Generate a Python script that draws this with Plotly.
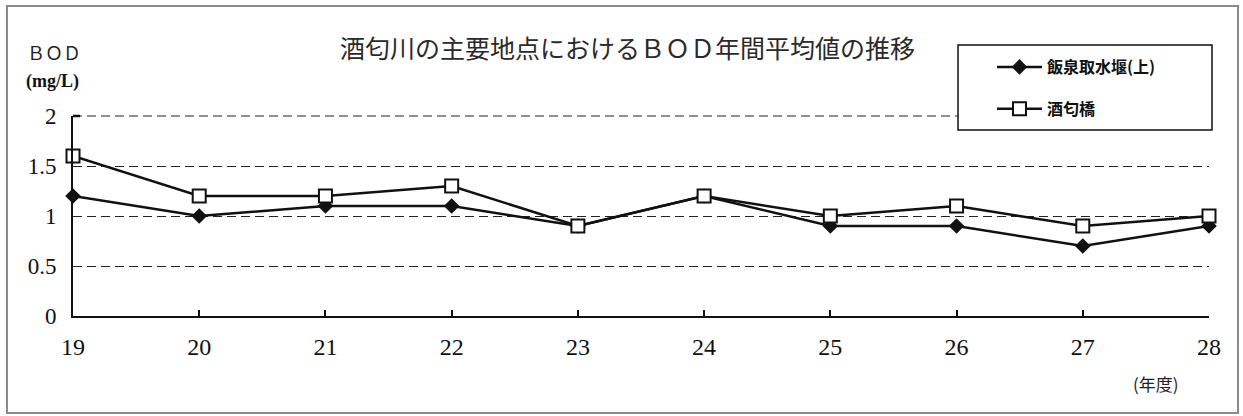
import plotly.graph_objects as go

# 年度 (平成)
years = [19, 20, 21, 22, 23, 24, 25, 26, 27, 28]
# BOD 年間平均値 (mg/L)
iizumi = [1.2, 1.0, 1.1, 1.1, 0.9, 1.2, 0.9, 0.9, 0.7, 0.9]
sakawabashi = [1.6, 1.2, 1.2, 1.3, 0.9, 1.2, 1.0, 1.1, 0.9, 1.0]
y_ticks = [0, 0.5, 1, 1.5, 2]
y_tick_text = ["0", "0.5", "1", "1.5", "2"]
y_max = 2

W, H = 1243, 416
L, R, T, B = 73, 34, 116, 100
PW, PH = W - L - R, H - T - B


def px(x):
    return (x - L) / PW


def py(y):
    return (H - B - y) / PH


serif = "Liberation Serif, DejaVu Serif, serif"
cjk = "Noto Sans CJK JP, Noto Sans CJK SC, sans-serif"
grid_dash = "9px,5px"

fig = go.Figure()
fig.add_trace(go.Scatter(
    x=years, y=iizumi, name="飯泉取水堰(上)", mode="lines+markers",
    line=dict(color="#111", width=2.5),
    marker=dict(symbol="diamond", size=12, color="#111"),
    cliponaxis=False, legendgroup="a",
))
fig.add_trace(go.Scatter(
    x=years, y=sakawabashi, name="酒匂橋", mode="lines+markers",
    line=dict(color="#111", width=2.5),
    marker=dict(symbol="square", size=13, color="white",
                line=dict(color="#111", width=2)),
    cliponaxis=False, legendgroup="b",
))

shapes = [
    # outer frame
    dict(type="rect", xref="paper", yref="paper",
         x0=px(7), x1=px(1238), y0=py(413), y1=py(6),
         line=dict(color="#8a8a8a", width=2), layer="below"),
    # top gridline at the upper edge of the value range (paper ref so it is not clipped)
    dict(type="line", xref="paper", yref="paper",
         x0=0, x1=1, y0=1, y1=1,
         line=dict(color="#222", width=1.2, dash=grid_dash), layer="below"),
    # corner tick at the top of the value axis
    dict(type="line", xref="paper", yref="paper",
         x0=0, x1=px(80), y0=1, y1=1,
         line=dict(color="#111", width=2.5), layer="below"),
    # legend box
    dict(type="rect", xref="paper", yref="paper",
         x0=px(958), x1=px(1212), y0=py(130), y1=py(45),
         line=dict(color="#111", width=1.5), fillcolor="white", layer="above"),
]

annotations = [
    dict(text="酒匂川の主要地点におけるＢＯＤ年間平均値の推移",
         xref="paper", yref="paper", x=px(627), y=py(47),
         xanchor="center", yanchor="middle", showarrow=False,
         font=dict(family=cjk, size=25, color="#2a2a2a")),
    dict(text="ＢＯＤ", xref="paper", yref="paper", x=px(25), y=py(52),
         xanchor="left", yanchor="middle", showarrow=False,
         font=dict(family=cjk, size=18, color="#222")),
    dict(text="(mg/L)", xref="paper", yref="paper", x=px(24), y=py(81),
         xanchor="left", yanchor="middle", showarrow=False,
         font=dict(family=serif, size=18, color="#111", weight="bold")),
    dict(text="(年度)", xref="paper", yref="paper", x=px(1131), y=py(383),
         xanchor="left", yanchor="middle", showarrow=False,
         font=dict(family=cjk, size=17, color="#222")),
]

fig.update_layout(
    width=W, height=H,
    margin=dict(l=L, r=R, t=T, b=B),
    paper_bgcolor="white", plot_bgcolor="white",
    showlegend=True,
    legend=dict(
        x=px(992), y=py(50), xanchor="left", yanchor="top",
        bgcolor="rgba(0,0,0,0)", borderwidth=0,
        font=dict(family=cjk, size=16, color="#111", weight="bold"),
        tracegroupgap=18, itemwidth=45,
    ),
    shapes=shapes,
    annotations=annotations,
    xaxis=dict(
        range=[19, 28], tickmode="array", tickvals=years,
        ticktext=[str(y) for y in years],
        showgrid=False, zeroline=False,
        showline=True, linecolor="#111", linewidth=2,
        ticks="inside", ticklen=6, tickwidth=1.5, tickcolor="#111",
        ticklabelstandoff=8,
        tickfont=dict(family=serif, size=24, color="#111"),
    ),
    yaxis=dict(
        range=[0, y_max], tickmode="array", tickvals=y_ticks, ticktext=y_tick_text,
        showgrid=True, gridcolor="#222", gridwidth=1.2, griddash=grid_dash,
        zeroline=False,
        showline=True, linecolor="#111", linewidth=2,
        ticks="", ticklabelstandoff=10,
        tickfont=dict(family=serif, size=23, color="#111"),
    ),
)

fig.write_html("out.html")
